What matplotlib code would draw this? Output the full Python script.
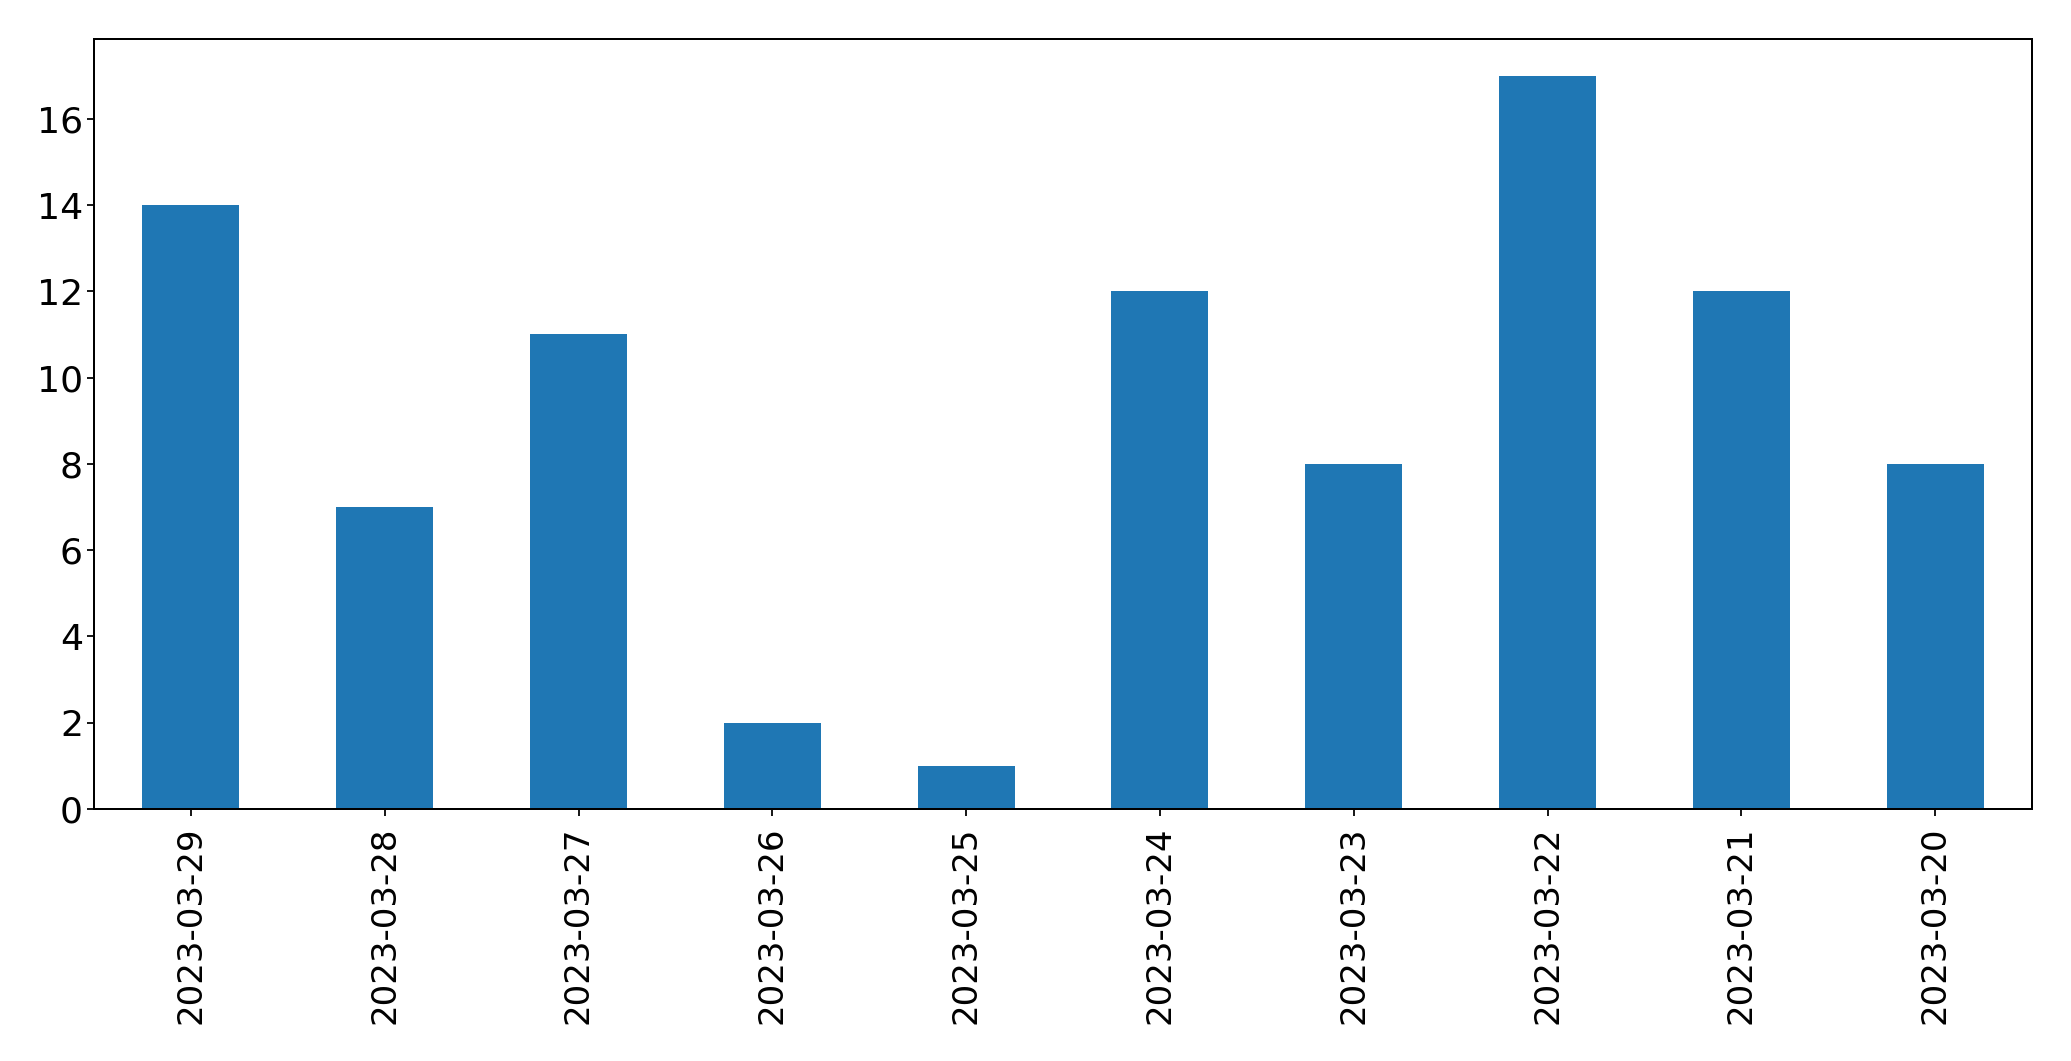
import matplotlib
matplotlib.use("Agg")
import matplotlib.pyplot as plt

# daily counts, in the order shown on the chart (newest first)
dates = ["2023-03-29", "2023-03-28", "2023-03-27", "2023-03-26", "2023-03-25",
         "2023-03-24", "2023-03-23", "2023-03-22", "2023-03-21", "2023-03-20"]
counts = [14, 7, 11, 2, 1, 12, 8, 17, 12, 8]

DPI = 160
fig = plt.figure(figsize=(2071 / DPI, 1061 / DPI), dpi=DPI)
ax = fig.add_axes([94 / 2071, 1 - 809 / 1061, (2032 - 94) / 2071, (809 - 39) / 1061])

positions = range(len(dates))
ax.bar(positions, counts, width=0.5, color="#1f77b4")
ax.set_xlim(-0.5, len(dates) - 0.5)
ax.set_ylim(0, max(counts) * 1.05)
ax.set_xticks(list(positions))
ax.set_xticklabels(dates, rotation=90)
ax.tick_params(axis="x", labelsize=15.3, length=3.2, pad=4.5)
ax.tick_params(axis="y", labelsize=16.3, length=3.2, pad=1.8)
for spine in ax.spines.values():
    spine.set_linewidth(0.9)

fig.savefig("out.png", dpi=DPI)
plt.close(fig)
